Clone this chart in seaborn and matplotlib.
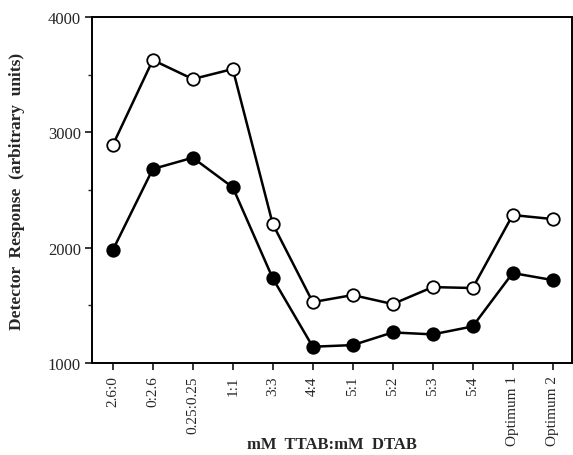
import matplotlib
matplotlib.use("Agg")
import matplotlib.pyplot as plt
import seaborn as sns
import pandas as pd
from matplotlib.ticker import MultipleLocator

categories = ["2.6:0", "0:2.6", "0.25:0.25", "1:1", "3:3", "4:4", "5:1", "5:2",
              "5:3", "5:4", "Optimum 1", "Optimum 2"]
open_values = [2890, 3627, 3462, 3549, 2205, 1528, 1589, 1511, 1658, 1650, 2283, 2248]
filled_values = [1979, 2682, 2780, 2523, 1734, 1141, 1155, 1265, 1248, 1317, 1780, 1719]
yticks = [1000, 2000, 3000, 4000]

sns.set_theme(style="ticks")
plt.rcParams["font.family"] = ["Liberation Serif", "DejaVu Serif"]

df_open = pd.DataFrame({"x": range(len(categories)), "y": open_values})
df_filled = pd.DataFrame({"x": range(len(categories)), "y": filled_values})

fig = plt.figure(figsize=(5.73, 4.56), dpi=100)
ax = fig.add_axes([0.1606, 0.2018, 0.8374, 0.7587])

sns.lineplot(data=df_filled, x="x", y="y", ax=ax, color="black", lw=1.8,
             marker="o", ms=9, mfc="black", mec="black", mew=1.3, sort=False)
sns.lineplot(data=df_open, x="x", y="y", ax=ax, color="black", lw=1.8,
             marker="o", ms=9, mfc="white", mec="black", mew=1.3, sort=False)

ax.set_xlim(-0.52, 11.48)
ax.set_ylim(1000, 4000)
ax.set_xticks(range(len(categories)))
ax.set_xticklabels(categories, rotation=90, fontsize=11)
ax.set_yticks(yticks)
ax.set_yticklabels([str(v) for v in yticks], fontsize=12)
ax.yaxis.set_minor_locator(MultipleLocator(500))
ax.tick_params(axis="y", which="major", length=5, width=1.3, direction="out", pad=3)
ax.tick_params(axis="y", which="minor", length=3, width=1, direction="out")
ax.tick_params(axis="x", length=5, width=1.3, direction="out", pad=4)

for s in ax.spines.values():
    s.set_linewidth(1.4)
    s.set_color("black")

ax.set_xlabel("mM  TTAB:mM  DTAB", fontsize=12, fontweight="bold")
ax.xaxis.set_label_coords(0.5, -0.212)
ax.set_ylabel("Detector  Response  (arbitrary  units)", fontsize=12.5,
              fontweight="bold")
ax.yaxis.set_label_coords(-0.14, 0.5)

fig.savefig("out.png", dpi=100)
